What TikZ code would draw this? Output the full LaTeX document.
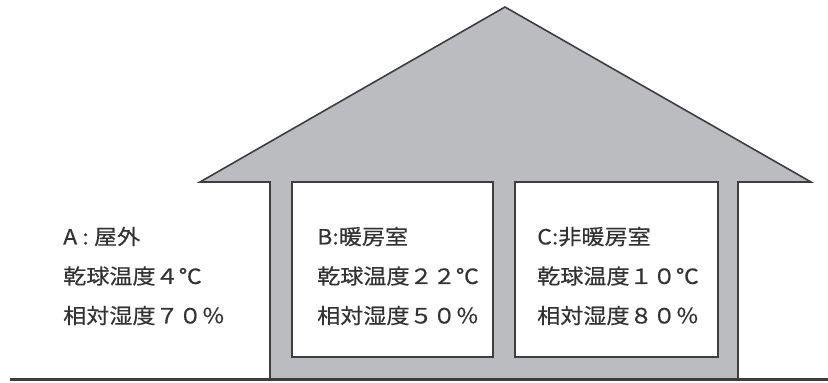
\documentclass[tikz,border=0pt]{standalone}
\usepackage{fontspec}
\usepackage{tikz}
\usetikzlibrary{positioning}
\newfontfamily\jpfont[FakeStretch=1.1, FakeBold=0.4]{Noto Sans CJK JP}
\definecolor{wallgray}{HTML}{BBBCBF}
\definecolor{edgegray}{HTML}{3E3E3E}

\begin{document}
\begin{tikzpicture}[x=1pt, y=-1pt,
    room/.style={draw=edgegray, line width=1.6pt, fill=white, rectangle, inner sep=0pt},
    label/.style={anchor=west, align=left, inner sep=0pt, text=black!80,
        font=\jpfont\fontsize{21}{39.5}\selectfont}]
    \useasboundingbox (0,0) rectangle (828,383);

    % House outline with roof
    \fill[wallgray] (270,379) -- (270,182) -- (200,182) -- (505,7) -- (811,182) -- (738,182) -- (738,379) -- cycle;
    \draw[edgegray, line width=1.6pt, line join=miter] (270,379) -- (270,182) -- (200,182) -- (505,7) -- (811,182) -- (738,182) -- (738,379);

    % Rooms
    \node[room, minimum width=201pt, minimum height=175pt] (roomB) at (392.5,269.5) {};
    \node[room, minimum width=203pt, minimum height=175pt] (roomC) at (616.5,269.5) {};

    % Ground
    \draw[edgegray, line width=3pt] (10,379) -- (828,379);

    % Labels
    \node[label] (textA) at (63,276) {A : 屋外\\乾球温度４℃\\相対湿度７０％};
    \node[label] (textB) at (317,276) {B:暖房室\\乾球温度２２℃\\相対湿度５０％};
    \node[label] (textC) at (537,276) {C:非暖房室\\乾球温度１０℃\\相対湿度８０％};
\end{tikzpicture}
\end{document}
